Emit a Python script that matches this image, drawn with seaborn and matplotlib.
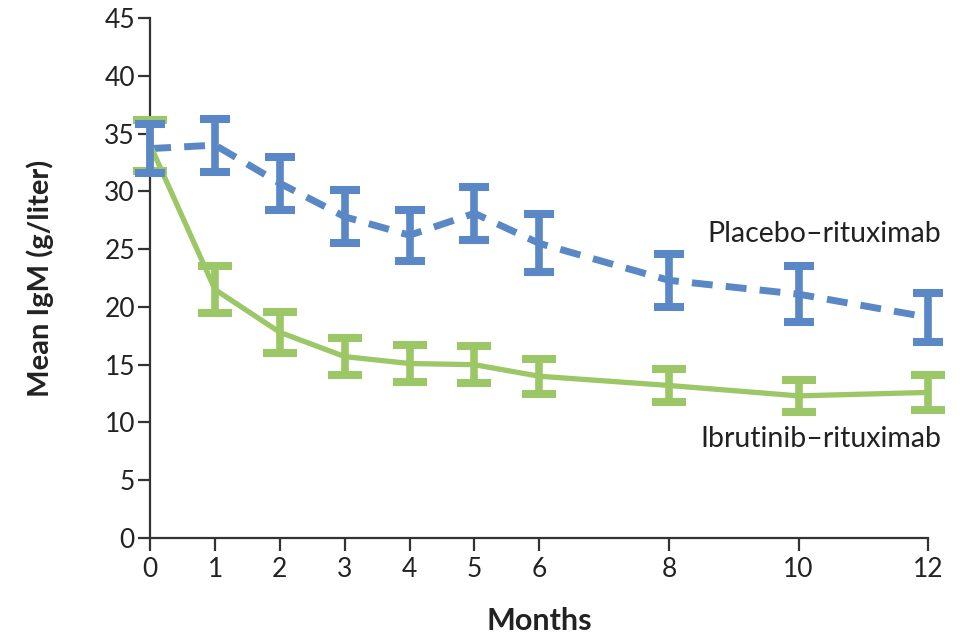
import matplotlib
matplotlib.use("Agg")
import matplotlib.pyplot as plt
import seaborn as sns
import pandas as pd

months = [0, 1, 2, 3, 4, 5, 6, 8, 10, 12]
placebo_mean = [33.7, 34.0, 30.7, 27.8, 26.2, 28.1, 25.5, 22.3, 21.1, 19.1]
placebo_err = [2.1, 2.3, 2.3, 2.3, 2.2, 2.3, 2.5, 2.3, 2.4, 2.1]
ibrut_mean = [34.0, 21.5, 17.8, 15.7, 15.1, 15.0, 14.0, 13.2, 12.3, 12.6]
ibrut_err = [2.2, 2.0, 1.8, 1.6, 1.6, 1.6, 1.5, 1.4, 1.4, 1.5]
series_names = ["Placebo\u2013rituximab", "Ibrutinib\u2013rituximab"]
yticks = [0, 5, 10, 15, 20, 25, 30, 35, 40, 45]

blue = "#5a88c6"
green = "#9cc766"

sns.set_style("ticks")
plt.rcParams['font.family'] = ['Lato', 'DejaVu Sans']

df = pd.DataFrame({
    "Months": months * 2,
    "IgM": placebo_mean + ibrut_mean,
    "group": [series_names[0]] * len(months) + [series_names[1]] * len(months),
})

fig = plt.figure(figsize=(9.69, 6.44), dpi=100)
ax = fig.add_axes([0.155, 0.1646, 0.803, 0.8074])

sns.lineplot(data=df[df.group == series_names[0]], x="Months", y="IgM", ax=ax,
             color=blue, lw=5, linestyle=(0, (3.0, 1.9)), legend=False)
sns.lineplot(data=df[df.group == series_names[1]], x="Months", y="IgM", ax=ax,
             color=green, lw=3.8, legend=False)
for ln in ax.lines:
    ln.set_clip_on(False)

ax.errorbar(months, ibrut_mean, yerr=ibrut_err, fmt='none', ecolor=green,
            elinewidth=5.5, capsize=12, capthick=5.8, clip_on=False, zorder=3)
ax.errorbar(months, placebo_mean, yerr=placebo_err, fmt='none', ecolor=blue,
            elinewidth=5.5, capsize=10.5, capthick=5.8, clip_on=False, zorder=4)

ax.set_xlim(0, 12)
ax.set_ylim(0, 45)
ax.set_xticks(months)
ax.set_yticks(yticks)
sns.despine(ax=ax)
for s in ["left", "bottom"]:
    ax.spines[s].set_color("#333333")
    ax.spines[s].set_linewidth(1.6)
ax.tick_params(axis="both", colors="#333333", labelcolor="#222222",
               labelsize=19, width=1.6, length=9)
ax.tick_params(axis="x", pad=5)
ax.tick_params(axis="y", pad=2)

ax.set_xlabel("Months", fontsize=22, fontweight="bold", color="#222222", labelpad=18)
ax.set_ylabel("Mean IgM (g/liter)", fontsize=21, fontweight="bold", color="#222222", labelpad=36)

ax.text(12.2, 26.3, series_names[0], ha="right", va="center", fontsize=20.5,
        color="#222222", clip_on=False)
ax.text(12.2, 8.6, series_names[1], ha="right", va="center", fontsize=20.5,
        color="#222222", clip_on=False)

fig.savefig("out.png", dpi=100)
